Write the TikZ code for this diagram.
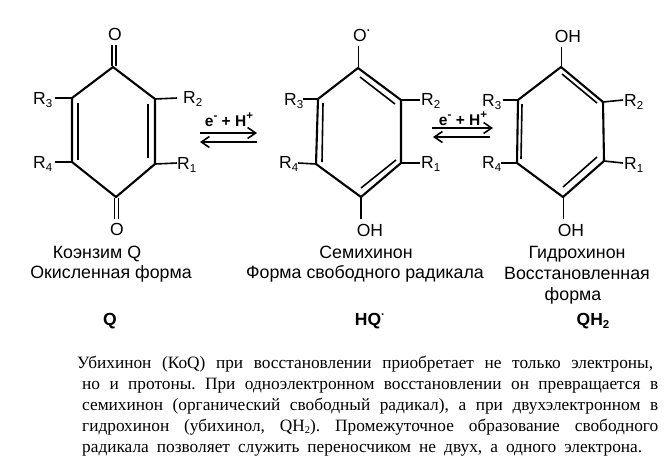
\documentclass[tikz,border=0pt]{standalone}
\usepackage{fontspec}
\setmainfont{Liberation Sans}
\newfontfamily\parafont{Liberation Serif}
\usetikzlibrary{arrows.meta}
\frenchspacing
\tikzset{
  x=1pt,y=-1pt,
  bond/.style={line width=2.1pt,line cap=round,line join=round},
  thinbond/.style={line width=1.6pt},
  atom/.style={inner sep=0pt,font=\fontsize{17.5}{18}\selectfont},
  rlabel/.style={inner sep=0pt,anchor=base west,font=\fontsize{17.5}{18}\selectfont},
  captext/.style={inner sep=0pt,anchor=base,font=\fontsize{17.8}{20}\selectfont},
  symtext/.style={inner sep=0pt,anchor=base,font=\bfseries\fontsize{17.5}{18}\selectfont},
  eqtext/.style={inner sep=0pt,anchor=base,font=\bfseries\fontsize{15.5}{16}\selectfont},
  para/.style={inner sep=0pt,anchor=base west,font=\parafont\fontsize{17.3}{18}\selectfont},
  rxn/.style={line width=1.1pt,-{Straight Barb[length=8pt,width=11pt,line width=1.6pt]}},
}
\newcommand{\Sb}[1]{\raisebox{-3.5pt}{\fontsize{11.5}{12}\selectfont #1}}
\newcommand{\Sp}[1]{\raisebox{6.5pt}{\fontsize{11.5}{12}\selectfont #1}}
\newcommand{\Rr}[1]{R\Sb{#1}}
\newcommand{\Ln}[2]{\makebox[#1pt][s]{#2}}
\begin{document}
\begin{tikzpicture}
\useasboundingbox (0,0) rectangle (666,459);
\fill[white] (0,0) rectangle (666,459);
% --- Q
\coordinate (a1) at (113,67);\coordinate (a2) at (155,99);\coordinate (a3) at (155,164);
\coordinate (a4) at (116,197);\coordinate (a5) at (72,162);\coordinate (a6) at (72,98);
\draw[bond] (a1)--(a2)--(a3)--(a4)--(a5)--(a6)--cycle;
\draw[thinbond] (148,104)--(148,158);
\draw[thinbond] (78,103)--(78,160);
\node[atom] (qo1) at (115,34) {O};
\node[atom] (qo2) at (117,229) {O};
\draw[thinbond] (112,45)--(112,66);\draw[thinbond] (116,45)--(116,66);
\draw[thinbond] (114.5,198)--(114.5,219);\draw[thinbond] (118.5,198)--(118.5,219);
\node[rlabel] (q3) at (33,104) {\Rr{3}};
\node[rlabel] (q4) at (33,168) {\Rr{4}};
\node[rlabel] (q2) at (183,103) {\Rr{2}};
\node[rlabel] (q1) at (177,169) {\Rr{1}};
\draw[thinbond] (a6)--(55,98);\draw[thinbond] (a5)--(55,162);
\draw[thinbond] (a2)--(177,98);\draw[thinbond] (a3)--(177,163);
% --- HQ
\coordinate (b1) at (358,68);\coordinate (b2) at (401,100);\coordinate (b3) at (401,163);
\coordinate (b4) at (361,197);\coordinate (b5) at (316,164);\coordinate (b6) at (318,99);
\draw[bond] (b1)--(b2)--(b3)--(b4)--(b5)--(b6)--cycle;
\draw[thinbond] (360,77)--(395,104);
\draw[thinbond] (396,160)--(361,188);
\draw[thinbond] (323,103)--(322,162);
\node[atom,anchor=base west] (ho1) at (353,41) {O\Sp{\bfseries·}};
\node[atom,anchor=base] (ho2) at (370,236) {OH};
\draw[thinbond] (358.5,46)--(358.5,67);
\draw[thinbond] (361,198)--(361,219);
\node[rlabel] (h3) at (284,105) {\Rr{3}};
\node[rlabel] (h4) at (279,168) {\Rr{4}};
\node[rlabel] (h2) at (421,105) {\Rr{2}};
\node[rlabel] (h1) at (421,168) {\Rr{1}};
\draw[thinbond] (b6)--(303,99);\draw[thinbond] (b5)--(298,163);
\draw[thinbond] (b2)--(420,100);\draw[thinbond] (b3)--(420,163);
% --- QH2
\coordinate (c1) at (561,67);\coordinate (c2) at (603,102);\coordinate (c3) at (604,161);
\coordinate (c4) at (563,197);\coordinate (c5) at (517,163);\coordinate (c6) at (518,100);
\draw[bond] (c1)--(c2)--(c3)--(c4)--(c5)--(c6)--cycle;
\draw[thinbond] (562,74)--(597,103);
\draw[thinbond] (597,157)--(563,187);
\draw[thinbond] (522,104)--(521,159);
\node[atom,anchor=base] (c01) at (568,42) {OH};
\node[atom,anchor=base] (c02) at (571,236) {OH};
\draw[thinbond] (561.5,47)--(561.5,66);
\draw[thinbond] (563.5,198)--(563.5,219);
\node[rlabel] (c3l) at (482,106) {\Rr{3}};
\node[rlabel] (c4l) at (482,168) {\Rr{4}};
\node[rlabel] (c2l) at (624,106) {\Rr{2}};
\node[rlabel] (c1l) at (624,169) {\Rr{1}};
\draw[thinbond] (c6)--(503,100);\draw[thinbond] (c5)--(501,163);
\draw[thinbond] (c2)--(623,100);\draw[thinbond] (c3)--(623,163);
% --- arrows
\node[eqtext] (e1) at (229,126) {e\Sp{-} + H\Sp{+}};
\coordinate (e1a) at (200,133);\coordinate (e1b) at (257,133);
\coordinate (e1c) at (257,142);\coordinate (e1d) at (200,142);
\draw[rxn] (e1a)--(e1b);
\draw[rxn] (e1c)--(e1d);
\node[eqtext] (e2) at (463,125) {e\Sp{-} + H\Sp{+}};
\coordinate (e2a) at (432,128);\coordinate (e2b) at (493,128);
\coordinate (e2c) at (490,137);\coordinate (e2d) at (433,137);
\draw[rxn] (e2a)--(e2b);
\draw[rxn] (e2c)--(e2d);
% --- captions
\node[captext] (t1a) at (97,258) {Коэнзим Q};
\node[captext] (t1b) at (111,278) {Окисленная форма};
\node[captext] (t2a) at (366,258) {Семихинон};
\node[captext] (t2b) at (365,278) {Форма свободного радикала};
\node[captext] (t3a) at (577,258) {Гидрохинон};
\node[captext] (t3b) at (577,279) {Восстановленная};
\node[captext] (t3c) at (573,300) {форма};
\node[symtext] (s1) at (110,325) {Q};
\node[symtext] (s2) at (370,325) {HQ\Sp{·}};
\node[symtext] (s3) at (593,325) {QH\Sb{2}};
% --- paragraph
\node[para] (p1) at (77,368) {\Ln{576}{Убихинон (КоQ) при восстановлении приобретает не только электроны,}};
\node[para] (p2) at (82,389) {\Ln{576}{но и протоны. При одноэлектронном восстановлении он превращается в}};
\node[para] (p3) at (82,410) {\Ln{576}{семихинон (органический свободный радикал), а при двухэлектронном в}};
\node[para] (p4) at (82,431) {\Ln{576}{гидрохинон (убихинол, QH{\raisebox{-2.5pt}{\fontsize{10.5}{11}\selectfont 2}}). Промежуточное образование свободного}};
\node[para] (p5) at (82,452) {\Ln{560}{радикала позволяет служить переносчиком не двух, а одного электрона.}};
\end{tikzpicture}
\end{document}
